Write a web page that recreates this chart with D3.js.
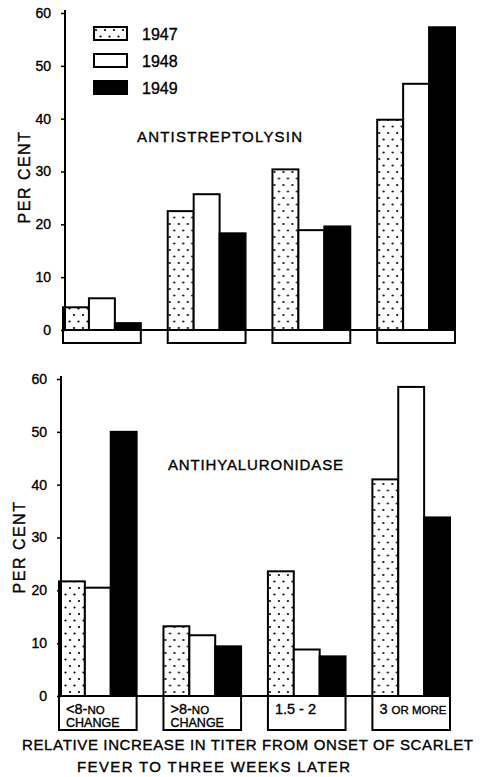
<!DOCTYPE html>
<html>
<head>
<meta charset="utf-8">
<script src="https://cdn.jsdelivr.net/npm/d3@7"></script>
<style>
body { margin: 0; background: #fff; }
text { font-family: "Liberation Sans", "DejaVu Sans", sans-serif; fill: #000; stroke: #000; stroke-width: 0.35px; }
</style>
</head>
<body>
<svg width="483" height="777"></svg>
<script>
// categories and values
const groups = ["<8-NO CHANGE", ">8-NO CHANGE", "1.5 - 2", "3 OR MORE"];
const groupLines = [["<8-NO", "CHANGE"], [">8-NO", "CHANGE"], ["1.5 - 2"], ["3 OR MORE"]];
const years = ["1947", "1948", "1949"];
const yTicks = [0, 10, 20, 30, 40, 50, 60];

const strep1947 = [4.3, 22.5, 30.4, 39.8];
const strep1948 = [6.0, 25.7, 18.9, 46.6];
const strep1949 = [1.3, 18.3, 19.6, 57.3];

const hyal1947 = [21.7, 13.2, 23.6, 41.0];
const hyal1948 = [20.5, 11.5, 8.8, 58.5];
const hyal1949 = [50.0, 9.4, 7.5, 33.8];

const svg = d3.select("svg");

// dotted fill for 1947
const defs = svg.append("defs");
const pat = defs.append("pattern")
  .attr("id", "dots")
  .attr("patternUnits", "userSpaceOnUse")
  .attr("width", 9)
  .attr("height", 13);
pat.append("rect").attr("width", 9).attr("height", 13).attr("fill", "#fff");
pat.append("circle").attr("cx", 2).attr("cy", 3).attr("r", 1.1).attr("fill", "#000");
pat.append("circle").attr("cx", 6.5).attr("cy", 9.5).attr("r", 1.1).attr("fill", "#000");

const fills = {"1947": "url(#dots)", "1948": "#fff", "1949": "#000"};

// box label line: digits/symbols big, trailing words in small caps
function writeLine(t, ln, k) {
  const first = t.append("tspan").attr("x", 7).attr("dy", k === 0 ? 0 : 13);
  if (!/\d/.test(ln)) {
    first.style("font-size", "12.5px").text(ln);
    return;
  }
  const m = ln.match(/^([^A-Z]*)(.*)$/);
  first.style("font-size", "14.5px").text(m[1]);
  if (m[2]) t.append("tspan").style("font-size", "11.5px").text(m[2]);
}

function drawPanel(cfg) {
  const g = svg.append("g");

  const x = d3.scaleBand()
    .domain(groups)
    .range(cfg.xRange)
    .paddingInner(0.257)
    .paddingOuter(0);

  const xs = d3.scaleBand()
    .domain(years)
    .range([0, x.bandwidth()]);

  const y = d3.scaleLinear()
    .domain([0, 60])
    .range(cfg.yRange);

  // rows: one per group, with the three years
  const rows = groups.map((grp, i) => ({
    group: grp,
    lines: groupLines[i],
    vals: years.map((yr, j) => ({year: yr, value: cfg.series[j][i]}))
  }));

  // category boxes under the baseline
  const boxes = g.selectAll("g.box")
    .data(rows)
    .enter().append("g")
    .attr("class", "box")
    .attr("transform", d => "translate(" + x(d.group) + "," + y(0) + ")");

  boxes.append("rect")
    .attr("width", x.bandwidth())
    .attr("height", cfg.boxH)
    .attr("fill", "#fff")
    .attr("stroke", "#000")
    .attr("stroke-width", 2);

  if (cfg.labels) {
    boxes.each(function(d) {
      const t = d3.select(this).append("text")
        .attr("x", 7)
        .attr("y", 18);
      d.lines.forEach((ln, k) => writeLine(t, ln, k));
    });
  }

  // baseline
  g.append("line")
    .attr("x1", cfg.axisX)
    .attr("x2", cfg.xRange[1])
    .attr("y1", y(0))
    .attr("y2", y(0))
    .attr("stroke", "#000")
    .attr("stroke-width", 2);

  // bars
  const bars = g.selectAll("g.grp")
    .data(rows)
    .enter().append("g")
    .attr("class", "grp")
    .attr("transform", d => "translate(" + x(d.group) + ",0)");

  bars.selectAll("rect")
    .data(d => d.vals)
    .enter().append("rect")
    .attr("x", d => xs(d.year))
    .attr("y", d => y(d.value))
    .attr("width", xs.bandwidth())
    .attr("height", d => y(0) - y(d.value))
    .attr("fill", d => fills[d.year])
    .attr("stroke", "#000")
    .attr("stroke-width", 2);

  // y axis
  const axis = g.append("g")
    .attr("transform", "translate(" + cfg.axisX + ",0)")
    .call(d3.axisLeft(y).tickValues(yTicks).tickSize(4).tickPadding(10).tickFormat(d3.format("d")));
  axis.select(".domain").remove();
  axis.selectAll(".tick line").attr("stroke", "#000").attr("stroke-width", 1.5);
  axis.selectAll(".tick text")
    .style("font-family", "'Liberation Sans', sans-serif")
    .style("font-size", "14px");
  g.append("line")
    .attr("x1", cfg.axisX).attr("x2", cfg.axisX)
    .attr("y1", cfg.axisTop).attr("y2", y(0))
    .attr("stroke", "#000")
    .attr("stroke-width", 2);

  g.append("text")
    .attr("transform", "translate(" + cfg.yLabelX + "," + cfg.yLabelY + ") rotate(-90)")
    .attr("text-anchor", "middle")
    .style("font-size", "16px")
    .style("letter-spacing", "1.5px")
    .text("PER CENT");

  g.append("text")
    .attr("x", cfg.titleX)
    .attr("y", cfg.titleY)
    .attr("textLength", cfg.titleW)
    .style("font-size", "15px")
    .text(cfg.title);
}

drawPanel({
  series: [strep1947, strep1948, strep1949],
  xRange: [63, 455],
  yRange: [330, 13],
  axisX: 65,
  axisTop: 10,
  boxH: 13,
  labels: false,
  yLabelX: 30,
  yLabelY: 177,
  title: "ANTISTREPTOLYSIN",
  titleX: 137,
  titleY: 142,
  titleW: 165
});

drawPanel({
  series: [hyal1947, hyal1948, hyal1949],
  xRange: [59, 450],
  yRange: [696, 379],
  axisX: 61,
  axisTop: 376,
  boxH: 34,
  labels: true,
  yLabelX: 25,
  yLabelY: 547,
  title: "ANTIHYALURONIDASE",
  titleX: 168,
  titleY: 470,
  titleW: 175
});

// legend
const legend = svg.append("g").attr("class", "legend");
const leg = legend.selectAll("g")
  .data(years)
  .enter().append("g")
  .attr("transform", (d, i) => "translate(94," + (27 + i * 27) + ")");
leg.append("rect")
  .attr("width", 33)
  .attr("height", 13)
  .attr("fill", d => fills[d])
  .attr("stroke", "#000")
  .attr("stroke-width", 2);
leg.append("text")
  .attr("x", 48)
  .attr("y", 13)
  .style("font-size", "16px")
  .text(d => d);

// x axis title
svg.append("text")
  .attr("x", 22)
  .attr("y", 750)
  .attr("textLength", 451)
  .style("font-size", "15px")
  .text("RELATIVE INCREASE IN TITER FROM ONSET OF SCARLET");
svg.append("text")
  .attr("x", 77)
  .attr("y", 772)
  .attr("textLength", 273)
  .style("font-size", "15px")
  .text("FEVER TO THREE WEEKS LATER");
</script>
</body>
</html>
